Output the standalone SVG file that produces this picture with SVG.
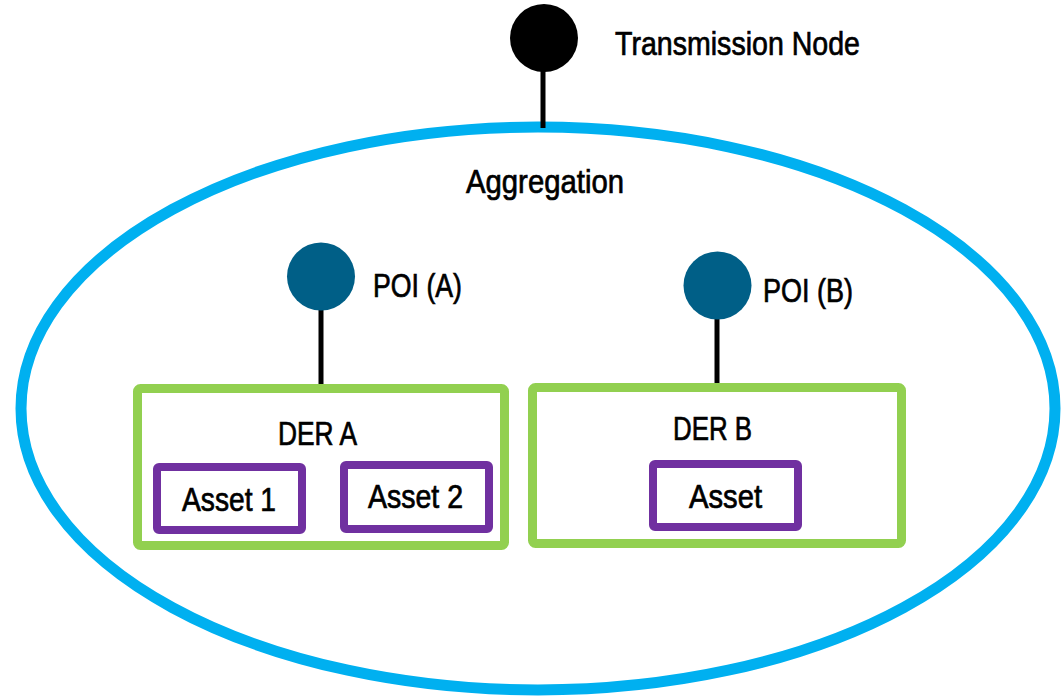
<svg xmlns="http://www.w3.org/2000/svg" width="1061" height="697" viewBox="0 0 1061 697">
<style>
text{font-family:"Liberation Sans",Arial,sans-serif;font-size:33px;fill:#000;stroke:#000;stroke-width:0.7px;}
.conn{stroke:#000;stroke-width:5;fill:none;}
.der{fill:#fff;stroke:#92D050;stroke-width:9;}
.asset{fill:#fff;stroke:#7030A0;stroke-width:8;}
.poi{fill:#005F87;}
</style>
<rect width="1061" height="697" fill="#fff"/>
<g id="aggregation">
<ellipse cx="538" cy="408.5" rx="517" ry="281.5" fill="#fff" stroke="#00B0F0" stroke-width="11"/>
<text x="466" y="193" textLength="158" lengthAdjust="spacingAndGlyphs">Aggregation</text>
</g>
<g id="connectors">
<line class="conn" x1="543" y1="70" x2="543" y2="128"/>
<line class="conn" x1="321" y1="305" x2="321" y2="389"/>
<line class="conn" x1="717" y1="315" x2="717" y2="384"/>
</g>
<g id="transmission-node">
<circle cx="544" cy="38" r="34" fill="#000"/>
<text x="615" y="55" textLength="245" lengthAdjust="spacingAndGlyphs">Transmission Node</text>
</g>
<g id="poi-a">
<circle class="poi" cx="321" cy="276.5" r="34"/>
<text x="373" y="297" textLength="89" lengthAdjust="spacingAndGlyphs">POI (A)</text>
</g>
<g id="poi-b">
<circle class="poi" cx="717.5" cy="285.5" r="34"/>
<text x="763" y="302" textLength="90" lengthAdjust="spacingAndGlyphs">POI (B)</text>
</g>
<g id="der-a">
<rect class="der" x="137.5" y="388.5" width="367" height="157" rx="3"/>
<text x="278" y="445" textLength="79" lengthAdjust="spacingAndGlyphs">DER A</text>
</g>
<g id="asset-1">
<rect class="asset" x="157" y="467" width="145" height="63" rx="2"/>
<text x="182" y="511" textLength="94" lengthAdjust="spacingAndGlyphs">Asset 1</text>
</g>
<g id="asset-2">
<rect class="asset" x="344" y="465" width="145" height="64" rx="2"/>
<text x="368" y="508" textLength="95" lengthAdjust="spacingAndGlyphs">Asset 2</text>
</g>
<g id="der-b">
<rect class="der" x="532.5" y="387.5" width="369" height="156" rx="3"/>
<text x="673" y="440" textLength="79" lengthAdjust="spacingAndGlyphs">DER B</text>
</g>
<g id="asset-b">
<rect class="asset" x="653" y="464" width="145" height="63" rx="2"/>
<text x="689" y="508" textLength="73" lengthAdjust="spacingAndGlyphs">Asset</text>
</g>
</svg>
